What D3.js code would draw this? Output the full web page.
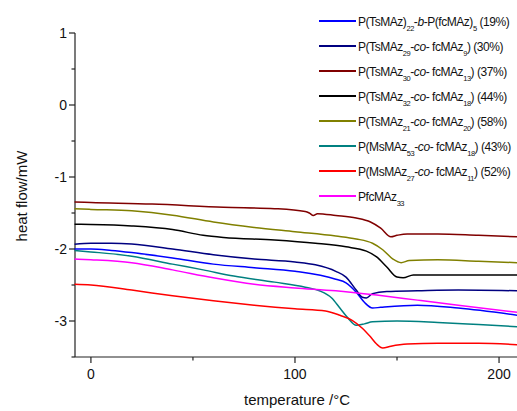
<!DOCTYPE html>
<html><head><meta charset="utf-8">
<script src="https://cdn.jsdelivr.net/npm/d3@7/dist/d3.min.js"></script>
<style>body{margin:0;background:#fff}svg{display:block}</style>
</head><body><svg id="c" width="517" height="411"></svg>
<script>
const xTicks = [0, 100, 200];
const yTicks = [1, 0, -1, -2, -3];
const xLabel = "temperature /°C";
const yLabel = "heat flow/mW";

const seriesNames = ["blue19","navy30","darkred37","black44","olive58","teal43","red52","magenta"];
const seriesColors = ["#0000ff","#000080","#800000","#000000","#808000","#008080","#ff0000","#ff00ff"];

// legend labels: segments [text, kind] kind: n normal, s subscript, i italic
const legendLabels = [
  [["P(TsMAz)","n"],["22","s"],["-","n"],["b","i"],["-P(fcMAz)","n"],["5","s"],[" (19%)","n"]],
  [["P(TsMAz","n"],["29","s"],["-","n"],["co","i"],["- fcMAz","n"],["9","s"],[") (30%)","n"]],
  [["P(TsMAz","n"],["30","s"],["-","n"],["co","i"],["- fcMAz","n"],["13","s"],[") (37%)","n"]],
  [["P(TsMAz","n"],["32","s"],["-","n"],["co","i"],["- fcMAz","n"],["18","s"],[") (44%)","n"]],
  [["P(TsMAz","n"],["21","s"],["-","n"],["co","i"],["- fcMAz","n"],["20","s"],[") (58%)","n"]],
  [["P(MsMAz","n"],["53","s"],["-","n"],["co","i"],["- fcMAz","n"],["18","s"],[") (43%)","n"]],
  [["P(MsMAz","n"],["27","s"],["-","n"],["co","i"],["- fcMAz","n"],["11","s"],[") (52%)","n"]],
  [["PfcMAz","n"],["33","s"]]
];

const blue19 = [[-8,-2.0],[0,-2.0],[10,-2.02],[20,-2.05],[40,-2.125],[60,-2.21],[80,-2.26],[100,-2.31],[120,-2.42],[125,-2.47],[130,-2.60],[134,-2.74],[138,-2.82],[142,-2.81],[160,-2.78],[180,-2.82],[209,-2.92]];
const navy30 = [[-8,-1.935],[0,-1.92],[10,-1.92],[20,-1.93],[40,-2.0],[60,-2.08],[80,-2.14],[100,-2.18],[110,-2.22],[120,-2.31],[125,-2.39],[130,-2.57],[133,-2.67],[135,-2.68],[138,-2.62],[145,-2.59],[160,-2.58],[180,-2.57],[209,-2.58]];
const darkred37 = [[-8,-1.347],[0,-1.354],[30,-1.375],[65,-1.42],[90,-1.44],[105,-1.48],[107,-1.5],[109,-1.535],[111,-1.51],[120,-1.535],[130,-1.57],[137,-1.625],[142,-1.71],[147,-1.83],[150,-1.81],[155,-1.79],[170,-1.79],[190,-1.81],[209,-1.83]];
const black44 = [[-8,-1.657],[0,-1.66],[20,-1.68],[40,-1.73],[55,-1.81],[65,-1.84],[90,-1.875],[110,-1.92],[125,-1.97],[135,-2.03],[140,-2.11],[145,-2.25],[150,-2.39],[153,-2.40],[158,-2.36],[190,-2.36],[209,-2.36]];
const olive58 = [[-8,-1.44],[0,-1.45],[20,-1.47],[40,-1.53],[60,-1.625],[80,-1.70],[100,-1.76],[120,-1.82],[130,-1.86],[138,-1.92],[143,-2.01],[148,-2.14],[152,-2.19],[156,-2.16],[170,-2.15],[190,-2.17],[209,-2.19]];
const teal43 = [[-8,-2.02],[0,-2.04],[20,-2.10],[40,-2.21],[55,-2.29],[70,-2.375],[90,-2.46],[105,-2.53],[112,-2.58],[118,-2.68],[122,-2.82],[126,-2.96],[130,-3.06],[134,-3.04],[138,-3.01],[150,-3.0],[170,-3.02],[190,-3.05],[209,-3.08]];
const red52 = [[-8,-2.49],[0,-2.5],[20,-2.57],[40,-2.65],[60,-2.72],[80,-2.78],[100,-2.83],[115,-2.86],[122,-2.92],[128,-2.99],[133,-3.10],[137,-3.22],[140,-3.32],[143,-3.375],[147,-3.35],[155,-3.32],[170,-3.31],[190,-3.31],[209,-3.33]];
const magenta = [[-8,-2.14],[0,-2.15],[20,-2.19],[40,-2.29],[60,-2.40],[80,-2.49],[100,-2.54],[120,-2.58],[140,-2.64],[160,-2.71],[180,-2.78],[209,-2.88]];

const seriesData = [blue19, navy30, darkred37, black44, olive58, teal43, red52, magenta];

const svg = d3.select("#c");
const x = d3.scaleLinear().domain([-7.8, 208.8]).range([75, 517]);
const y = d3.scaleLinear().domain([-3.5, 1]).range([357, 33]);

const font = "'Liberation Sans', Arial, sans-serif";
const axisColor = "#222";

// x axis
const xa = svg.append("g").attr("transform","translate(0,357)");
xa.append("line").attr("x1",75).attr("x2",517).attr("stroke",axisColor).attr("stroke-width",1.2);
xa.selectAll(".mj").data(xTicks).enter().append("line")
  .attr("x1",d=>x(d)).attr("x2",d=>x(d)).attr("y1",0).attr("y2",6).attr("stroke",axisColor).attr("stroke-width",1.2);
xa.selectAll(".mn").data([50,150]).enter().append("line")
  .attr("x1",d=>x(d)).attr("x2",d=>x(d)).attr("y1",0).attr("y2",3.5).attr("stroke",axisColor).attr("stroke-width",1.2);
xa.selectAll(".tl").data(xTicks).enter().append("text")
  .attr("x",d=>x(d)).attr("y",22).attr("text-anchor","middle")
  .attr("font-family",font).attr("font-size",14).attr("fill","#111").text(d=>d);

// y axis
const ya = svg.append("g");
ya.append("line").attr("x1",75).attr("x2",75).attr("y1",33).attr("y2",357).attr("stroke",axisColor).attr("stroke-width",1.2);
ya.selectAll(".mj").data(yTicks).enter().append("line")
  .attr("x1",69).attr("x2",75).attr("y1",d=>y(d)).attr("y2",d=>y(d)).attr("stroke",axisColor).attr("stroke-width",1.2);
ya.selectAll(".mn").data([0.5,-0.5,-1.5,-2.5,-3.5]).enter().append("line")
  .attr("x1",71.5).attr("x2",75).attr("y1",d=>y(d)).attr("y2",d=>y(d)).attr("stroke",axisColor).attr("stroke-width",1.2);
ya.selectAll(".tl").data(yTicks).enter().append("text")
  .attr("x",67).attr("y",d=>y(d)+5).attr("text-anchor","end")
  .attr("font-family",font).attr("font-size",14).attr("fill","#111").text(d=>d);

// axis titles
svg.append("text").attr("x",297).attr("y",405).attr("text-anchor","middle")
  .attr("font-family",font).attr("font-size",15).attr("fill","#111").text(xLabel);
svg.append("text").attr("transform","translate(27,196) rotate(-90)").attr("text-anchor","middle")
  .attr("font-family",font).attr("font-size",15).attr("fill","#111").text(yLabel);

// curves
const line = d3.line().x(d=>x(d[0])).y(d=>y(d[1])).curve(d3.curveMonotoneX);
svg.append("g").selectAll("path").data(seriesData).enter().append("path")
  .attr("d",line).attr("fill","none")
  .attr("stroke",(d,i)=>seriesColors[i]).attr("stroke-width",1.5);

// legend
const lg = svg.append("g");
const rowY = [21,46,71,96,121,146,171,196];
legendLabels.forEach((lab,i)=>{
  const yy = rowY[i];
  lg.append("line").attr("x1",319).attr("x2",356).attr("y1",yy).attr("y2",yy)
    .attr("stroke",seriesColors[i]).attr("stroke-width",1.8);
  const t = lg.append("text").attr("x",358).attr("y",yy+5)
    .attr("font-family",font).attr("font-size",12).attr("fill","#111").attr("letter-spacing","-0.45");
  let prev = "n";
  lab.forEach(([s,k])=>{
    const ts = t.append("tspan").text(s);
    if(k==="s"){ ts.attr("font-size",7.5).attr("dy", prev==="s"?0:5); }
    else { if(prev==="s") ts.attr("dy",-5); if(k==="i") ts.attr("font-style","italic"); }
    prev = k;
  });
});
</script></body></html>
